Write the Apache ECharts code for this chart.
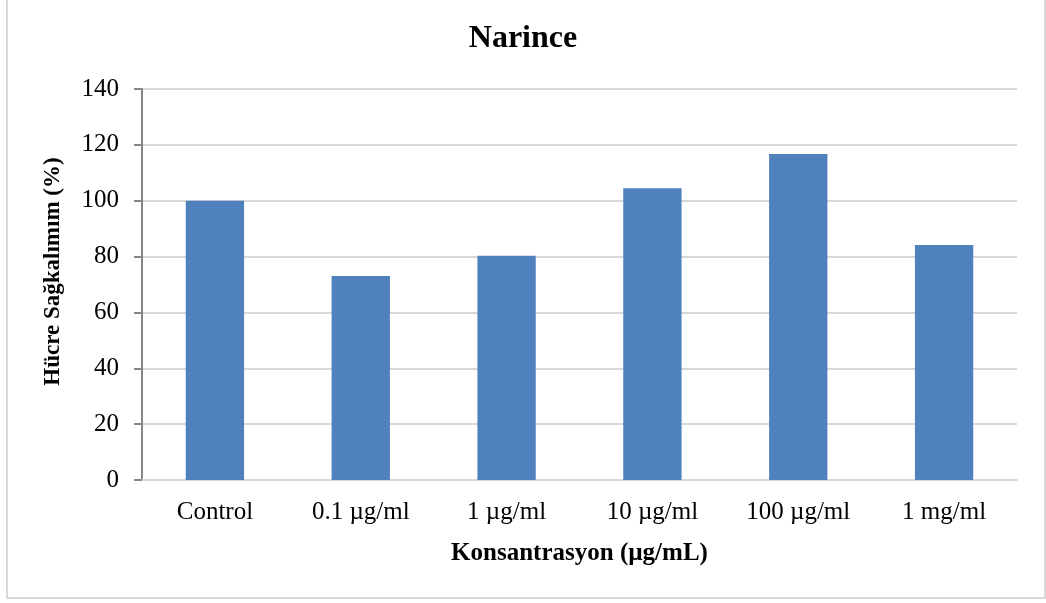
<!DOCTYPE html>
<html>
<head>
<meta charset="utf-8">
<script src="https://cdn.jsdelivr.net/npm/echarts@6/dist/echarts.min.js"></script>
<style>
  html, body { margin: 0; padding: 0; background: #fff; }
  #chart { width: 1046px; height: 603px; }
</style>
</head>
<body>
<div id="chart"></div>
<script>
// values
var categories = ['Control', '0.1 µg/ml', '1 µg/ml', '10 µg/ml', '100 µg/ml', '1 mg/ml'];
var viability = [100, 73, 80.3, 104.5, 116.7, 84.1];
var yTicks = { min: 0, max: 140, interval: 20 };

var serif = '"Liberation Serif", "DejaVu Serif", serif';

var myChart = echarts.init(document.getElementById('chart'));
var option = {
  animation: false,
  backgroundColor: '#fff',
  title: {
    text: 'Narince',
    left: 'center',
    top: 18,
    textStyle: { fontFamily: serif, fontSize: 32, fontWeight: 'bold', color: '#000' }
  },
  graphic: [{
    type: 'rect',
    shape: { x: 7, y: -5, width: 1038, height: 603 },
    style: { fill: 'none', stroke: '#d9d9d9', lineWidth: 2 },
    silent: true
  }],
  grid: { left: 142, right: 29, top: 89, bottom: 123 },
  xAxis: {
    type: 'category',
    data: categories,
    name: 'Konsantrasyon (µg/mL)',
    nameLocation: 'middle',
    nameGap: 61,
    nameTextStyle: { fontFamily: serif, fontSize: 25, fontWeight: 'bold', color: '#000' },
    axisLine: { lineStyle: { color: '#d9d9d9', width: 2 } },
    axisTick: { show: false },
    axisLabel: { fontFamily: serif, fontSize: 25, color: '#000', margin: 20 }
  },
  yAxis: {
    type: 'value',
    min: yTicks.min,
    max: yTicks.max,
    interval: yTicks.interval,
    name: 'Hücre Sağkalımım (%)',
    nameLocation: 'middle',
    nameGap: 77,
    nameTextStyle: { fontFamily: serif, fontSize: 23, fontWeight: 'bold', color: '#000', padding: [0, 0, 0, 26] },
    axisLine: { show: true, lineStyle: { color: '#868686', width: 2 } },
    axisTick: { show: true, length: 8, lineStyle: { color: '#868686', width: 2 } },
    axisLabel: { fontFamily: serif, fontSize: 25, color: '#000', margin: 23 },
    splitLine: { lineStyle: { color: '#d9d9d9', width: 2 } }
  },
  series: [{
    name: 'Hücre Sağkalımım',
    type: 'bar',
    data: viability,
    barWidth: '40%',
    itemStyle: { color: '#4f81bd' }
  }]
};
myChart.setOption(option);
window.addEventListener('resize', function () { myChart.resize(); });
</script>
</body>
</html>
